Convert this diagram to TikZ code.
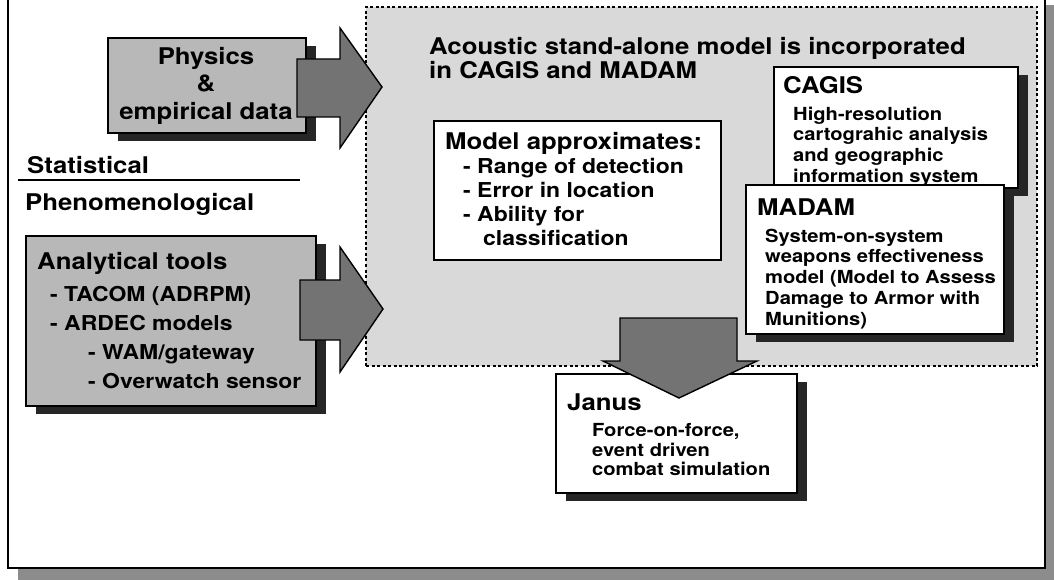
\documentclass[tikz,border=0pt]{standalone}
\usepackage{fontspec}
\setmainfont{TeX Gyre Heros}[FakeStretch=1.12]
\usetikzlibrary{positioning, shadows}

\tikzset{
  greybox/.style={draw, line width=1.6pt, fill=black!28, inner sep=0pt, anchor=north west},
  whitebox/.style={draw, line width=1.6pt, fill=white, inner sep=0pt, anchor=north west},
  boxshadow/.style={drop shadow={shadow xshift=10pt, shadow yshift=-8pt, fill=black!85, opacity=1}},
  bigarrow/.style={draw, line width=1.4pt, fill=black!55, line join=miter},
  txt/.style={inner sep=0pt, anchor=north west, align=left},
}

\begin{document}
\begin{tikzpicture}[x=1pt, y=-1pt]

\useasboundingbox (0,0) rectangle (1054,580);

% Outer frame with its shadow
\fill[black!45] (18,5) rectangle (1056,582);
\draw[line width=1.8pt, fill=white] (8,-5) rectangle (1045,568);

% Acoustic model region
\node[draw, line width=2pt, dash pattern=on 3pt off 2.5pt, fill=black!15, inner sep=0pt, anchor=north west,
      minimum width=671pt, minimum height=359pt] (acoustic) at (365,6) {};
\node[txt, font=\fontsize{23}{24}\selectfont\bfseries] (acoustictitle) at (429,36.7)
  {Acoustic stand-alone model is incorporated\\in CAGIS and MADAM};

% Left column
\node[greybox, boxshadow, minimum width=198pt, minimum height=95pt] (physics) at (107,37) {};
\node[inner sep=0pt, anchor=north, align=center, font=\fontsize{23}{27.5}\selectfont\bfseries] (physicstext) at (206,46.7)
  {Physics\\\&\\empirical data};

\node[inner sep=0pt, anchor=base west, font=\fontsize{23}{24}\selectfont\bfseries] (statistical) at (27,173.2) {Statistical};
\node[inner sep=0pt, anchor=base west, font=\fontsize{23}{24}\selectfont\bfseries] (phenomenological) at (25,210.2) {Phenomenological};
\draw[line width=1.6pt] (18,180) -- (300,180);

\node[greybox, boxshadow, minimum width=290pt, minimum height=170pt] (analytical) at (25,235) {};
\node[txt, font=\fontsize{23}{24}\selectfont\bfseries] (analyticaltitle) at (37,251.7) {Analytical tools};
\node[txt, font=\fontsize{20.5}{29}\selectfont\bfseries] (analyticallist) at (50,285.7)
  {- TACOM (ADRPM)\\- ARDEC models\\\hspace*{38pt}- WAM/gateway\\\hspace*{38pt}- Overwatch sensor};

% Model approximates
\node[whitebox, minimum width=287pt, minimum height=139pt] (model) at (433,120) {};
\node[txt, font=\fontsize{23}{24}\selectfont\bfseries] (modeltitle) at (445,131.7) {Model approximates:};
\node[txt, font=\fontsize{20.5}{24}\selectfont\bfseries] (modellist) at (463,157.6)
  {- Range of detection\\- Error in location\\- Ability for\\\hspace*{20pt}classification};

% CAGIS
\node[whitebox, boxshadow, minimum width=244pt, minimum height=121pt] (cagis) at (773,66) {};
\node[txt, font=\fontsize{23}{24}\selectfont\bfseries] (cagistitle) at (783,76.7) {CAGIS};
\node[txt, font=\fontsize{18}{20.7}\selectfont\bfseries] (cagistext) at (793,106.5)
  {High-resolution\\cartograhic analysis\\and geographic\\information system};

% MADAM
\node[whitebox, boxshadow, minimum width=258pt, minimum height=149pt] (madam) at (745,184) {};
\node[txt, font=\fontsize{23}{24}\selectfont\bfseries] (madamtitle) at (757,198.7) {MADAM};
\node[txt, font=\fontsize{18}{20.8}\selectfont\bfseries] (madamtext) at (765,228.5)
  {System-on-system\\weapons effectiveness\\model (Model to Assess\\Damage to Armor with\\Munitions)};

% Janus
\node[whitebox, boxshadow, minimum width=241pt, minimum height=119pt] (janus) at (555,373) {};
\node[txt, font=\fontsize{23}{24}\selectfont\bfseries] (janustitle) at (567,393.7) {Janus};
\node[txt, font=\fontsize{18}{19.5}\selectfont\bfseries] (janustext) at (592,423.5)
  {Force-on-force,\\event driven\\combat simulation};

% Block arrows
\draw[bigarrow] (297,59) -- (340,59) -- (340,28) -- (382,87) -- (340,148) -- (340,117) -- (297,117) -- cycle;
\draw[bigarrow] (300,280) -- (340,280) -- (340,247) -- (383,309) -- (340,372) -- (340,340) -- (300,340) -- cycle;
\draw[bigarrow] (620,318) -- (737,318) -- (737,361) -- (757,361) -- (679,398) -- (603,361) -- (620,361) -- cycle;

\end{tikzpicture}
\end{document}
